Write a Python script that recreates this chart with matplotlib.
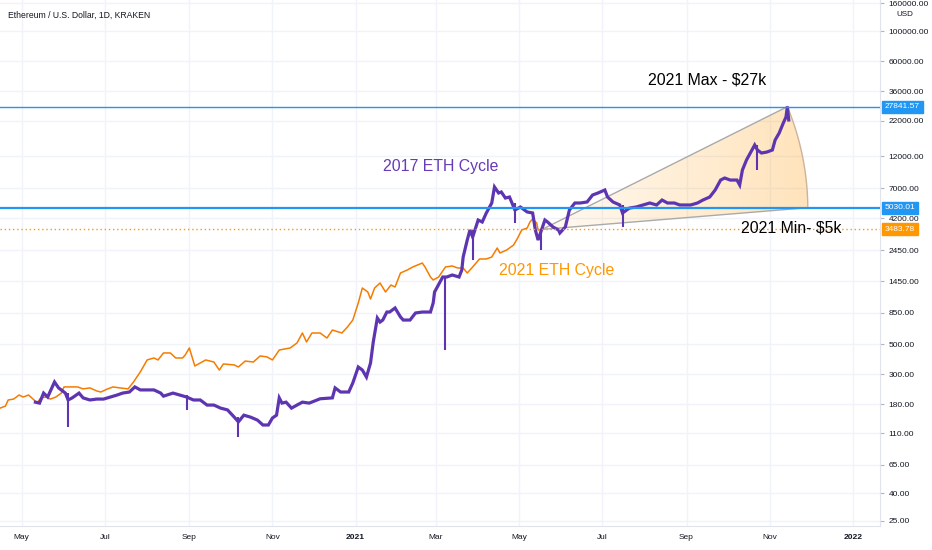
import matplotlib
matplotlib.use('Agg')
import matplotlib.pyplot as plt
import matplotlib.dates as mdates
import matplotlib.transforms as mtransforms
from matplotlib import font_manager
from matplotlib.colors import to_rgb
from matplotlib.patches import Polygon
from matplotlib.ticker import FuncFormatter, NullLocator
import numpy as np

# ETH/USD (Kraken, 1D) closes, Apr 2020 - May 2021
eth_2021_dates = [
    '2020-04-15', '2020-04-19', '2020-04-21', '2020-04-25', '2020-04-29', '2020-05-02',
    '2020-05-06', '2020-05-10', '2020-05-12', '2020-05-15', '2020-05-19', '2020-05-22',
    '2020-05-26', '2020-05-30', '2020-06-01', '2020-06-06', '2020-06-11', '2020-06-15',
    '2020-06-20', '2020-06-25', '2020-06-28', '2020-07-03', '2020-07-07', '2020-07-12',
    '2020-07-18', '2020-07-22', '2020-07-27', '2020-08-01', '2020-08-06', '2020-08-09',
    '2020-08-13', '2020-08-18', '2020-08-22', '2020-08-27', '2020-08-29', '2020-09-01',
    '2020-09-05', '2020-09-09', '2020-09-13', '2020-09-19', '2020-09-23', '2020-09-26',
    '2020-10-04', '2020-10-07', '2020-10-12', '2020-10-18', '2020-10-23', '2020-10-28',
    '2020-11-01', '2020-11-06', '2020-11-14', '2020-11-19', '2020-11-23', '2020-11-26',
    '2020-11-30', '2020-12-06', '2020-12-11', '2020-12-15', '2020-12-22', '2020-12-26',
    '2020-12-30', '2021-01-03', '2021-01-06', '2021-01-10', '2021-01-12', '2021-01-15',
    '2021-01-19', '2021-01-23', '2021-01-27', '2021-01-30', '2021-02-03', '2021-02-08',
    '2021-02-12', '2021-02-19', '2021-02-21', '2021-02-25', '2021-02-27', '2021-03-03',
    '2021-03-08', '2021-03-13', '2021-03-17', '2021-03-21', '2021-03-24', '2021-03-28',
    '2021-04-02', '2021-04-07', '2021-04-11', '2021-04-15', '2021-04-17', '2021-04-22',
    '2021-04-27', '2021-04-30', '2021-05-03', '2021-05-07', '2021-05-09', '2021-05-11',
    '2021-05-14', '2021-05-15', '2021-05-18',
]
eth_2021_close = [
    169, 175, 194, 197, 211, 204,
    211, 194, 184, 201, 204, 197,
    204, 218, 242, 242, 242, 234,
    238, 226, 222, 234, 242, 238,
    234, 263, 312, 382, 395, 382,
    430, 430, 395, 395, 416, 468,
    345, 363, 382, 369, 322, 357,
    351, 339, 375, 369, 409, 402,
    382, 452, 468, 509, 603, 518,
    603, 603, 554, 634, 603, 667,
    751, 1002, 1292, 1207, 1072, 1292,
    1406, 1207, 1359, 1314, 1666, 1752,
    1844, 1972, 1844, 1556, 1479, 1556,
    1844, 1875, 1812, 1812, 1666, 1844,
    2111, 2111, 2183, 2543, 2337, 2459,
    2674, 3012, 3450, 3566, 3949, 4154,
    3882, 3450, 3483.78,
]

# 2017 ETH cycle, shifted and scaled onto the current timeline
eth_2017_dates = [
    '2020-05-11', '2020-05-14', '2020-05-17', '2020-05-20', '2020-05-24', '2020-05-25',
    '2020-05-28', '2020-05-30', '2020-06-02', '2020-06-04', '2020-06-07', '2020-06-12',
    '2020-06-15', '2020-06-20', '2020-06-25', '2020-06-30', '2020-07-05', '2020-07-10',
    '2020-07-14', '2020-07-19', '2020-07-23', '2020-07-27', '2020-08-01', '2020-08-06',
    '2020-08-11', '2020-08-13', '2020-08-20', '2020-08-25', '2020-08-30', '2020-09-04',
    '2020-09-09', '2020-09-14', '2020-09-19', '2020-09-24', '2020-09-29', '2020-10-04',
    '2020-10-07', '2020-10-11', '2020-10-16', '2020-10-21', '2020-10-25', '2020-10-29',
    '2020-11-01', '2020-11-04', '2020-11-06', '2020-11-08', '2020-11-11', '2020-11-15',
    '2020-11-19', '2020-11-23', '2020-11-28', '2020-12-06', '2020-12-15', '2020-12-17',
    '2020-12-21', '2020-12-27', '2020-12-30', '2021-01-03', '2021-01-06', '2021-01-09',
    '2021-01-12', '2021-01-14', '2021-01-17', '2021-01-19', '2021-01-21', '2021-01-24',
    '2021-01-26', '2021-01-30', '2021-02-03', '2021-02-05', '2021-02-10', '2021-02-14',
    '2021-02-19', '2021-02-25', '2021-02-27', '2021-02-28', '2021-03-02', '2021-03-06',
    '2021-03-09', '2021-03-13', '2021-03-18', '2021-03-20', '2021-03-21', '2021-03-24',
    '2021-03-26', '2021-03-28', '2021-04-01', '2021-04-04', '2021-04-07', '2021-04-11',
    '2021-04-13', '2021-04-16', '2021-04-18', '2021-04-21', '2021-04-24', '2021-04-28',
    '2021-05-02', '2021-05-07', '2021-05-11', '2021-05-13', '2021-05-15', '2021-05-20',
    '2021-05-22', '2021-05-26', '2021-05-30', '2021-05-31', '2021-06-04', '2021-06-07',
    '2021-06-11', '2021-06-15', '2021-06-20', '2021-06-24', '2021-06-28', '2021-07-03',
    '2021-07-05', '2021-07-09', '2021-07-14', '2021-07-16', '2021-07-21', '2021-07-26',
    '2021-07-31', '2021-08-05', '2021-08-10', '2021-08-14', '2021-08-18', '2021-08-23',
    '2021-08-27', '2021-09-04', '2021-09-09', '2021-09-13', '2021-09-18', '2021-09-22',
    '2021-09-26', '2021-09-29', '2021-10-03', '2021-10-08', '2021-10-10', '2021-10-12',
    '2021-10-15', '2021-10-19', '2021-10-21', '2021-10-23', '2021-10-26', '2021-10-30',
    '2021-11-03', '2021-11-05', '2021-11-08', '2021-11-11', '2021-11-13', '2021-11-14',
    '2021-11-15',
]
eth_2017_close = [
    187, 184, 218, 204, 250, 263,
    238, 230, 218, 194, 201, 218,
    201, 194, 197, 197, 204, 211,
    218, 222, 242, 230, 230, 230,
    218, 207, 218, 211, 204, 194,
    194, 178, 178, 169, 164, 145,
    134, 150, 145, 138, 127, 127,
    143, 150, 201, 184, 187, 169,
    178, 187, 184, 198, 201, 238,
    222, 222, 259, 339, 322, 286,
    363, 518, 777, 726, 751, 860,
    860, 921, 791, 751, 751, 846,
    860, 860, 1002, 1207, 1314, 1556,
    1556, 1610, 1556, 1752, 2183, 2910,
    3450, 3063, 4083, 3949, 4602, 5448,
    7145, 6455, 6565, 5927, 6028, 4840,
    5090, 4681, 4602, 3450, 2910, 4083,
    3949, 3627, 3450, 3280, 3627, 4840,
    5448, 5448, 5544, 6237, 6455, 6789,
    6028, 5544, 5268, 4602, 5000, 5090,
    5268, 5448, 5268, 5728, 5448, 5448,
    5268, 5268, 5448, 5728, 6028, 6789,
    8035, 8317, 8035, 8035, 7392, 9525,
    11280, 13365, 14545, 13365, 12700, 12915,
    13365, 15810, 17820, 21090, 23380, 27841.57,
    22220,
]

# long lower wicks on the 2017 candles
wick_dates = ['2020-06-04', '2020-08-30', '2020-10-07', '2021-03-08', '2021-03-28',
              '2021-04-28', '2021-05-17', '2021-07-16', '2021-10-23']
wick_low = [123, 164, 104, 452, 2075, 3882, 2459, 3627, 9525]
wick_high = [218, 211, 145, 1556, 3450, 5448, 3450, 5268, 14545]

max_level = 27841.57
min_level = 5030.01
last_close = 3483.78

# sector drawing: apex, upper end, lower end
wedge_dates = ['2021-05-18', '2021-11-14', '2021-11-29']
wedge_prices = [3483.78, 27841.57, 5030.01]

y_ticks = [25, 40, 65, 110, 180, 300, 500, 850, 1450, 2450, 4200, 7000,
           12000, 22000, 36000, 60000, 100000, 160000]
x_tick_dates = ['2020-05-01', '2020-07-01', '2020-09-01', '2020-11-01', '2021-01-01',
                '2021-03-01', '2021-05-01', '2021-07-01', '2021-09-01', '2021-11-01',
                '2022-01-01']
x_tick_labels = ['May', 'Jul', 'Sep', 'Nov', '2021', 'Mar', 'May', 'Jul', 'Sep', 'Nov', '2022']

PURPLE = '#5e35b1'
ORANGE = '#f57c00'
BLUE = '#2196f3'
TXT = '#131722'

names = {f.name for f in font_manager.fontManager.ttflist}
if 'Liberation Sans Narrow' in names:
    FONT, k = 'Liberation Sans Narrow', 1.0
else:
    FONT, k = 'Liberation Sans', 0.82
plt.rcParams['font.family'] = [FONT, 'DejaVu Sans']

fig = plt.figure(figsize=(9.32, 5.5), dpi=100, facecolor='white')
ax = fig.add_axes([0, 24 / 550, 880 / 932, 526 / 550])

d21 = mdates.datestr2num(eth_2021_dates)
d17 = mdates.datestr2num(eth_2017_dates)

ax.set_yscale('log')
ax.set_xlim(mdates.datestr2num('2020-04-15'), mdates.datestr2num('2022-01-21'))
ax.set_ylim(22.97, 169400)

ax.plot(d21, eth_2021_close, color=ORANGE, lw=1.1, zorder=3)
ax.vlines(mdates.datestr2num(wick_dates), wick_low, wick_high, color=PURPLE, lw=1.5, zorder=4.6)
ax.plot(d17, eth_2017_close, color=PURPLE, lw=2.3, zorder=4.6, solid_joinstyle='miter')

ax.axhline(max_level, color=BLUE, lw=1, zorder=5)
ax.axhline(min_level, color=BLUE, lw=1.6, zorder=5)
ax.axhline(last_close, color='#ff9800', lw=1, ls=(0, (1, 2)), zorder=5)

# sector: straight edges from the apex, arc drawn round the apex in screen space
ax.set_autoscale_on(False)
wx = mdates.datestr2num(wedge_dates)
pts = ax.transData.transform(np.column_stack([wx, wedge_prices]))
c, p1, p2 = pts
a1 = np.arctan2(p1[1] - c[1], p1[0] - c[0])
a2 = np.arctan2(p2[1] - c[1], p2[0] - c[0])
r1 = np.hypot(*(p1 - c))
r2 = np.hypot(*(p2 - c))
t = np.linspace(0, 1, 80)
arc = c + np.column_stack([np.cos(a1 + t * (a2 - a1)), np.sin(a1 + t * (a2 - a1))]) * (r1 + t * (r2 - r1))[:, None]
arc_data = ax.transData.inverted().transform(arc)
verts = np.vstack([[wx[0], wedge_prices[0]], arc_data])
clip = Polygon(verts, closed=True, fc='none', ec='none')
ax.add_patch(clip)

xa = ax.transAxes.inverted().transform(c)[0]
xb = ax.transAxes.inverted().transform(arc).max(axis=0)[0]
cols = np.linspace(0, 1, 600)
img = np.zeros((1, 600, 4))
img[..., :3] = to_rgb('#ff9800')
img[..., 3] = 0.05 + 0.22 * np.clip((cols - xa) / (xb - xa), 0, 1)
im = ax.imshow(img, extent=[0, 1, 0, 1], transform=ax.transAxes, aspect='auto',
               interpolation='bilinear', zorder=4)
im.set_clip_path(clip)

ax.plot([wx[0], wx[1]], [wedge_prices[0], wedge_prices[1]], color='#aaaaaa', lw=1, zorder=4.5)
ax.plot([wx[0], wx[2]], [wedge_prices[0], wedge_prices[2]], color='#aaaaaa', lw=1, zorder=4.5)
ax.plot(arc_data[:, 0], arc_data[:, 1], color='#cdb39a', lw=1, zorder=4.5)

ax.set_xlim(mdates.datestr2num('2020-04-15'), mdates.datestr2num('2022-01-21'))
ax.set_ylim(22.97, 169400)

# axes styling
ax.yaxis.tick_right()
ax.set_yticks(y_ticks)
ax.yaxis.set_minor_locator(NullLocator())
ax.yaxis.set_major_formatter(FuncFormatter(lambda v, _: f'{v:.2f}'))
ax.set_xticks(mdates.datestr2num(x_tick_dates))
ax.set_xticklabels(x_tick_labels)
for lab in ax.get_xticklabels():
    if lab.get_text() in ('2021', '2022'):
        lab.set_fontweight('bold')
ax.tick_params(axis='y', length=3, color='#b2b5be', labelsize=7.4 * k, labelcolor=TXT, pad=3)
ax.tick_params(axis='x', length=0, labelsize=7.4 * k, labelcolor=TXT, pad=6)
ax.grid(True, color='#f0f3fa', lw=1, zorder=0)
ax.set_axisbelow(True)
for s in ('top', 'left'):
    ax.spines[s].set_visible(False)
ax.spines['right'].set_color('#e0e3eb')
ax.spines['bottom'].set_color('#e0e3eb')

# price tags on the scale
trans = mtransforms.blended_transform_factory(ax.transAxes, ax.transData)
for val, col in [(max_level, BLUE), (min_level, BLUE), (last_close, '#ff9800')]:
    ax.text(1 + 5 / 880, val, f'{val:.2f}', transform=trans, color='white',
            fontsize=7.4 * k, va='center', ha='left', clip_on=False, zorder=10,
            bbox=dict(boxstyle='square,pad=0.3', fc=col, ec=col))

# annotations
ax.text(mdates.datestr2num('2021-01-21'), 10025, '2017 ETH Cycle', color='#673ab7',
        fontsize=14 * k, va='center', ha='left', zorder=6)
ax.text(mdates.datestr2num('2021-04-16'), 1752, '2021 ETH Cycle', color='#ff9800',
        fontsize=14 * k, va='center', ha='left', zorder=6)
ax.text(mdates.datestr2num('2021-08-04'), 43750, '2021 Max - $27k', color='black',
        fontsize=14 * k, va='center', ha='left', zorder=6)
ax.text(mdates.datestr2num('2021-10-11'), 3566, '2021 Min- $5k', color='black',
        fontsize=14 * k, va='center', ha='left', zorder=6)

fig.text(8 / 932, 1 - 15 / 550, 'Ethereum / U.S. Dollar, 1D, KRAKEN', color=TXT,
         fontsize=7.6 * k, va='center', ha='left')
fig.text(905 / 932, 1 - 14 / 550, 'USD', color=TXT, fontsize=7 * k, va='center', ha='center')

fig.savefig('out.png', dpi=100, facecolor='white')
